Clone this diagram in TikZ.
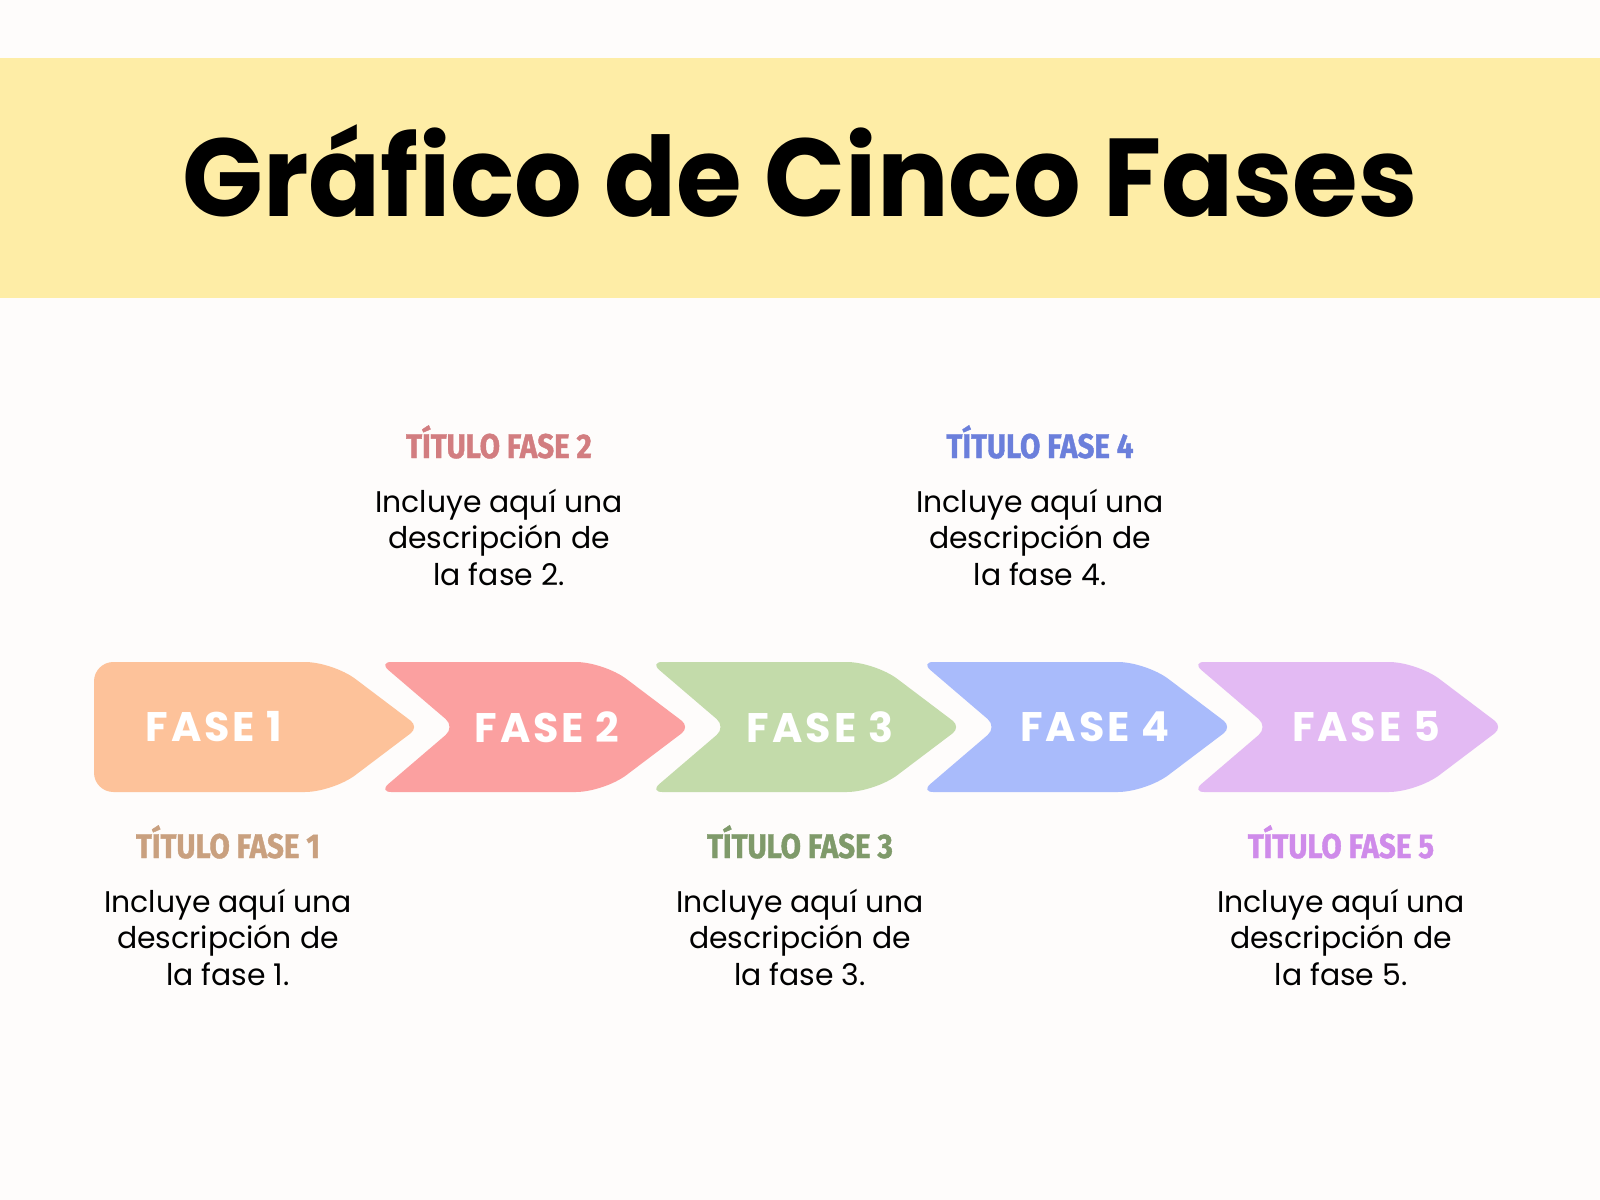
\documentclass[tikz,border=0pt]{standalone}
\usepackage{fontspec}
\setmainfont{Poppins}
\newfontfamily\bigfont{Poppins}[FakeStretch=0.96]
\newfontfamily\headfont{Fira Sans}[FakeStretch=0.86, FakeBold=1.2]
\newfontfamily\labelfont{Poppins}[LetterSpace=7]
\usetikzlibrary{positioning}

\definecolor{pagebg}{HTML}{FEFCFB}
\definecolor{bannerbg}{HTML}{FEEDA6}
\definecolor{arrA}{HTML}{FDC29A}
\definecolor{arrB}{HTML}{FBA0A0}
\definecolor{arrC}{HTML}{C3DBAA}
\definecolor{arrD}{HTML}{A9BBFB}
\definecolor{arrE}{HTML}{E3BAF3}
\definecolor{titA}{HTML}{C9A07F}
\definecolor{titB}{HTML}{D27D80}
\definecolor{titC}{HTML}{7F9A6A}
\definecolor{titD}{HTML}{6B7FDB}
\definecolor{titE}{HTML}{CF8BEA}

\begin{document}
\begin{tikzpicture}[x=0.02cm, y=-0.02cm,
  phaselabel/.style={text=white, inner sep=0pt, font=\labelfont\bfseries\fontsize{23.5}{25}\selectfont},
  phasetitle/.style={anchor=base, inner sep=0pt, font=\headfont\bfseries\fontsize{19.5}{22}\selectfont},
  phasedesc/.style={anchor=base, inner sep=0pt, align=center, font=\fontsize{17}{20.7}\selectfont}]
	\fill[pagebg] (0,0) rectangle (1600,1200);
	\useasboundingbox (0,0) rectangle (1600,1200);
	\fill[bannerbg] (0,58) rectangle (1600,298);
	\node (title) [anchor=base, inner sep=0pt, font=\bigfont\bfseries\fontsize{63}{66}\selectfont] at (800,216) {Gráfico de Cinco Fases};
	% first arrow has a flat back
	\fill[arrA] (200,662) [rounded corners=16pt] -- (333,662) [rounded corners=6pt] -- (419,727) [rounded corners=16pt] -- (333,792) [rounded corners=11pt] -- (94,792) -- (94,662) -- cycle;
	\foreach \xt/\col in {685/arrB, 956/arrC, 1227/arrD, 1498/arrE}
		\fill[\col] ({\xt-200},662) [rounded corners=16pt] -- ({\xt-81},662) [rounded corners=6pt] -- ({\xt+5},727) [rounded corners=16pt] -- ({\xt-81},792) [rounded corners=7pt] -- ({\xt-306},792) -- ({\xt-230},727) -- ({\xt-306},662) -- cycle;
	\foreach \lx [count=\i] in {214, 547, 820, 1095, 1366}
		\node (fase\i) [phaselabel] at (\lx,727) {FASE \i};
	\node (tit1) [phasetitle, text=titA] at (228,858) {TÍTULO FASE 1};
	\node (tit2) [phasetitle, text=titB] at (499,458) {TÍTULO FASE 2};
	\node (tit3) [phasetitle, text=titC] at (800,858) {TÍTULO FASE 3};
	\node (tit4) [phasetitle, text=titD] at (1040,458) {TÍTULO FASE 4};
	\node (tit5) [phasetitle, text=titE] at (1341,858) {TÍTULO FASE 5};
	\node (desc1) [phasedesc] at (228,985) {Incluye aquí una\\descripción de\\la fase 1.};
	\node (desc2) [phasedesc] at (499,585) {Incluye aquí una\\descripción de\\la fase 2.};
	\node (desc3) [phasedesc] at (800,985) {Incluye aquí una\\descripción de\\la fase 3.};
	\node (desc4) [phasedesc] at (1040,585) {Incluye aquí una\\descripción de\\la fase 4.};
	\node (desc5) [phasedesc] at (1341,985) {Incluye aquí una\\descripción de\\la fase 5.};
\end{tikzpicture}
\end{document}
